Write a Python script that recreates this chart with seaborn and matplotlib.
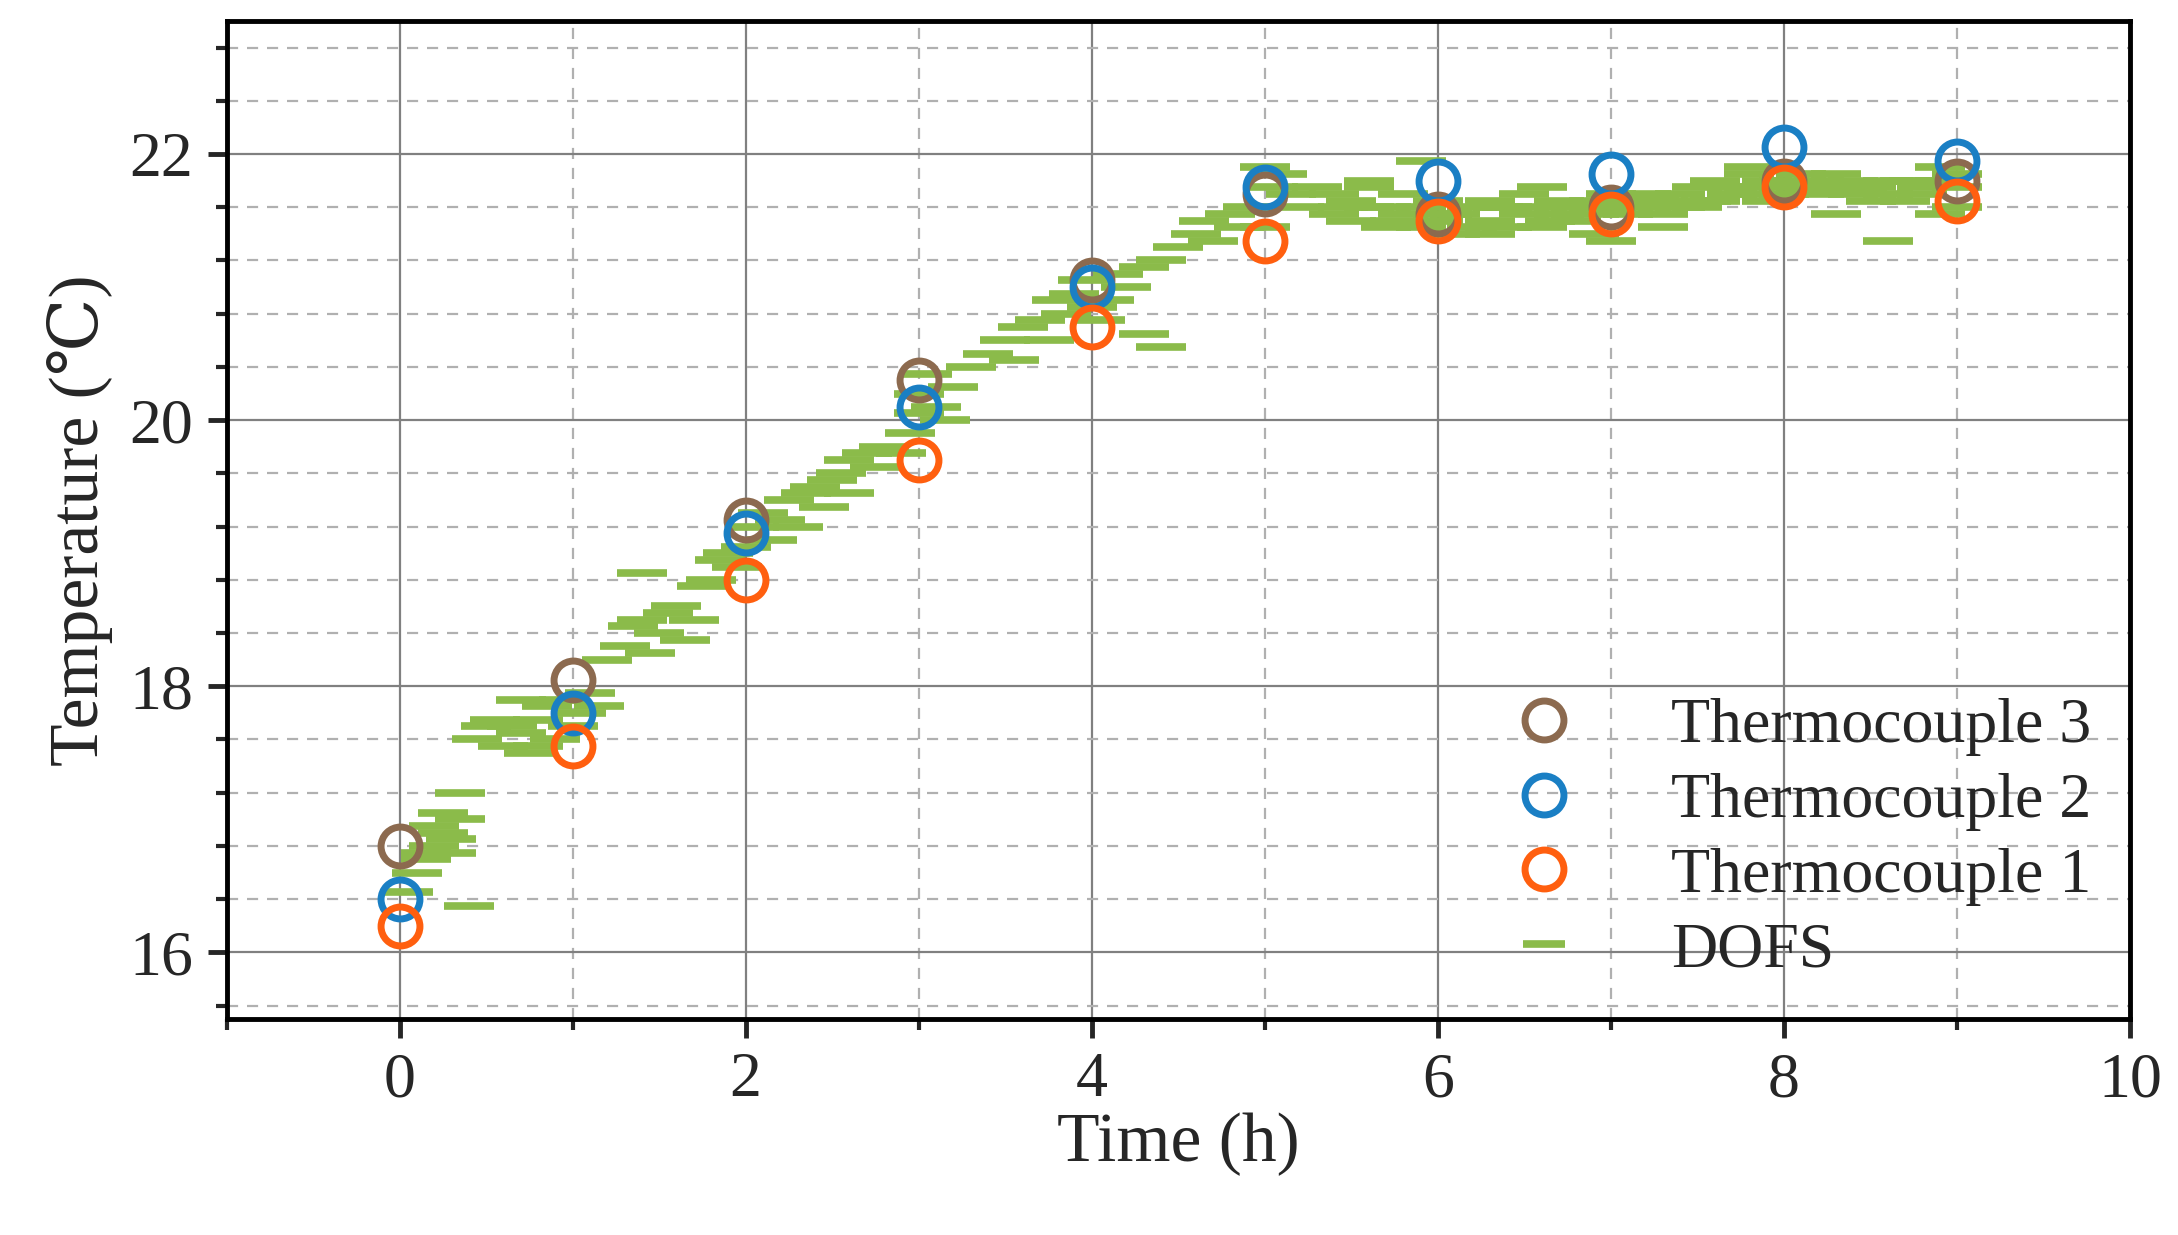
import numpy as np
import pandas as pd
import matplotlib
matplotlib.use("Agg")
import matplotlib.pyplot as plt
import seaborn as sns
from matplotlib.ticker import MultipleLocator
from matplotlib.lines import Line2D

sns.set_style("white")
plt.rcParams['font.family'] = ['Liberation Serif', 'DejaVu Serif']

# thermocouple readings (hourly)
tc_time = [0, 1, 2, 3, 4, 5, 6, 7, 8, 9]
tc3 = [16.8, 18.05, 19.25, 20.3, 21.05, 21.7, 21.55, 21.6, 21.8, 21.8]
tc2 = [16.4, 17.8, 19.15, 20.1, 21.0, 21.75, 21.8, 21.85, 22.05, 21.95]
tc1 = [16.2, 17.55, 18.8, 19.7, 20.7, 21.35, 21.5, 21.55, 21.75, 21.65]

# DOFS readings
dofs_time = [
    0.05, 0.1, 0.15, 0.2, 0.25, 0.3, 0.35, 0.4, 0.35, 0.2, 0.15, 0.3, 0.25,
    0.45, 0.5, 0.55, 0.6, 0.65, 0.7, 0.75, 0.8, 0.85, 0.9, 0.95, 1.0, 1.05, 1.1, 1.15, 0.7, 0.8,
    1.2, 1.3, 1.35, 1.4, 1.5, 1.55, 1.6, 1.7, 1.75, 1.8, 1.85, 1.9, 1.95, 1.45, 1.65, 1.4,
    2.0, 2.05, 2.1, 2.15, 2.2, 2.25, 2.3, 2.35, 2.4, 2.5, 2.55, 2.6, 2.7, 2.75, 2.8, 2.9, 2.95,
    3.0, 2.6, 2.45,
    3.0, 3.05, 3.1, 3.15, 3.2, 3.3, 3.4, 3.5, 3.55, 3.6, 3.7, 3.75, 3.8, 3.85, 3.9, 4.0, 4.05,
    4.1, 4.2, 4.3, 4.4, 4.15, 4.3, 3.95,
    4.4, 4.5, 4.6, 4.65, 4.7, 4.8, 4.9, 5.0, 5.05, 5.1, 5.0, 5.15, 5.2, 5.3, 4.85,
    5.4, 5.4, 5.5, 5.5, 5.6, 5.6, 5.7, 5.7, 5.8, 5.8, 5.9, 5.9, 6.0, 6.0, 6.1, 6.1,
    6.2, 6.2, 6.3, 6.3, 6.4, 6.4, 6.5, 6.5, 6.6, 6.6, 6.7, 6.7, 6.8, 6.8, 6.9, 6.9,
    7.0, 7.0, 7.1, 7.1, 7.2, 7.2, 7.3, 7.3, 7.4, 7.4, 7.5, 7.5, 7.6, 7.6, 7.7, 7.7,
    7.8, 7.8, 7.9, 7.9, 8.0, 8.0, 8.1, 8.1, 8.2, 8.2, 8.3, 8.3, 8.4, 8.4, 8.5, 8.5,
    8.6, 8.6, 8.7, 8.7, 8.8, 8.8, 8.9, 8.9, 9.0, 9.0, 5.6, 6.3, 6.9, 7.3, 8.6, 8.9,
    5.9, 6.6, 7.0, 7.8, 8.3, 9.0,
    5.45, 5.75, 6.05, 6.35, 6.65, 6.95, 7.25, 7.55, 7.85, 8.15, 8.45, 8.75,
]
dofs_temp = [
    16.45, 16.6, 16.75, 16.8, 16.9, 16.85, 17.0, 16.35, 17.2, 16.95, 16.7, 16.75, 17.05,
    17.6, 17.7, 17.75, 17.55, 17.7, 17.65, 17.5, 17.75, 17.85, 17.6, 17.9, 17.7, 17.8, 17.95, 17.85, 17.9, 17.55,
    18.2, 18.3, 18.45, 18.5, 18.4, 18.55, 18.6, 18.5, 18.75, 18.8, 18.95, 19.0, 18.9, 18.25, 18.35, 18.85,
    19.05, 19.2, 19.3, 19.1, 19.25, 19.4, 19.2, 19.45, 19.5, 19.55, 19.6, 19.7, 19.75, 19.65, 19.8, 19.75, 19.9,
    20.05, 19.45, 19.35,
    20.2, 20.35, 20.1, 20.0, 20.25, 20.4, 20.5, 20.6, 20.45, 20.7, 20.75, 20.6, 20.9, 20.8, 20.95, 20.85, 20.75,
    20.9, 21.0, 20.65, 20.55, 21.1, 21.15, 21.05,
    21.2, 21.3, 21.4, 21.5, 21.35, 21.55, 21.6, 21.45, 21.75, 21.85, 21.9, 21.7, 21.6, 21.75, 21.45,
    21.7, 21.55, 21.65, 21.5, 21.75, 21.6, 21.6, 21.45, 21.7, 21.55, 21.6, 21.45, 21.65, 21.5, 21.55, 21.4,
    21.6, 21.45, 21.65, 21.5, 21.6, 21.45, 21.55, 21.7, 21.6, 21.45, 21.55, 21.65, 21.6, 21.5, 21.65, 21.55,
    21.6, 21.7, 21.65, 21.55, 21.7, 21.6, 21.65, 21.55, 21.7, 21.6, 21.75, 21.6, 21.8, 21.65, 21.75, 21.7,
    21.85, 21.7, 21.8, 21.65, 21.8, 21.7, 21.85, 21.75, 21.8, 21.7, 21.85, 21.75, 21.8, 21.7, 21.75, 21.65,
    21.8, 21.7, 21.8, 21.65, 21.75, 21.7, 21.8, 21.9, 21.75, 21.85, 21.8, 21.4, 21.4, 21.45, 21.35, 21.55,
    21.95, 21.75, 21.35, 21.9, 21.55, 21.6,
    21.6, 21.5, 21.55, 21.6, 21.5, 21.6, 21.65, 21.65, 21.75, 21.75, 21.75, 21.8,
]

dofs = pd.DataFrame({"Time": dofs_time, "Temp": dofs_temp})
c3, c2, c1, cg = "#8c6a4f", "#1a7fc4", "#ff5f0f", "#8bbb4a"

fig = plt.figure(figsize=(21.78, 12.35), dpi=100)
ax = fig.add_axes([0.104, 0.175, 0.874, 0.808])

ax.set_xlim(-1, 10)
ax.set_ylim(15.5, 23.0)
ax.xaxis.set_major_locator(MultipleLocator(2))
ax.xaxis.set_minor_locator(MultipleLocator(1))
ax.yaxis.set_major_locator(MultipleLocator(2))
ax.yaxis.set_minor_locator(MultipleLocator(0.4))
ax.grid(which="major", color="#808080", lw=1.6, zorder=0)
ax.grid(which="minor", color="#b0b0b0", lw=1.6, ls=(0, (5, 4)), zorder=0)
ax.set_axisbelow(True)

sns.scatterplot(data=dofs, x="Time", y="Temp", marker="_", s=1300, linewidth=5.5,
                color=cg, ax=ax, zorder=2, legend=False)
for y, c in [(tc3, c3), (tc2, c2), (tc1, c1)]:
    ax.plot(tc_time, y, ls="none", marker="o", ms=28, mfc="none", mec=c, mew=5, zorder=3)

for s in ax.spines.values():
    s.set_linewidth(3.5)
    s.set_color("black")
ax.tick_params(which="major", direction="out", length=14, width=3.5, labelsize=46, pad=10,
               bottom=True, left=True)
ax.tick_params(which="minor", direction="out", length=8, width=3, bottom=True, left=True)
ax.set_xlabel("Time (h)", fontsize=50, labelpad=2)
ax.set_ylabel("Temperature (\u2103)", fontsize=50, labelpad=12)

handles = [
    Line2D([], [], ls="none", marker="o", ms=28, mfc="none", mec=c3, mew=5),
    Line2D([], [], ls="none", marker="o", ms=28, mfc="none", mec=c2, mew=5),
    Line2D([], [], ls="none", marker="o", ms=28, mfc="none", mec=c1, mew=5),
    Line2D([], [], ls="none", marker="_", ms=30, mec=cg, mew=5.5),
]
ax.legend(handles, ["Thermocouple 3", "Thermocouple 2", "Thermocouple 1", "DOFS"],
          loc="lower right", frameon=False, fontsize=46, handletextpad=1.0,
          labelspacing=0.25, borderaxespad=0.2)

fig.savefig("out.png", dpi=100)
